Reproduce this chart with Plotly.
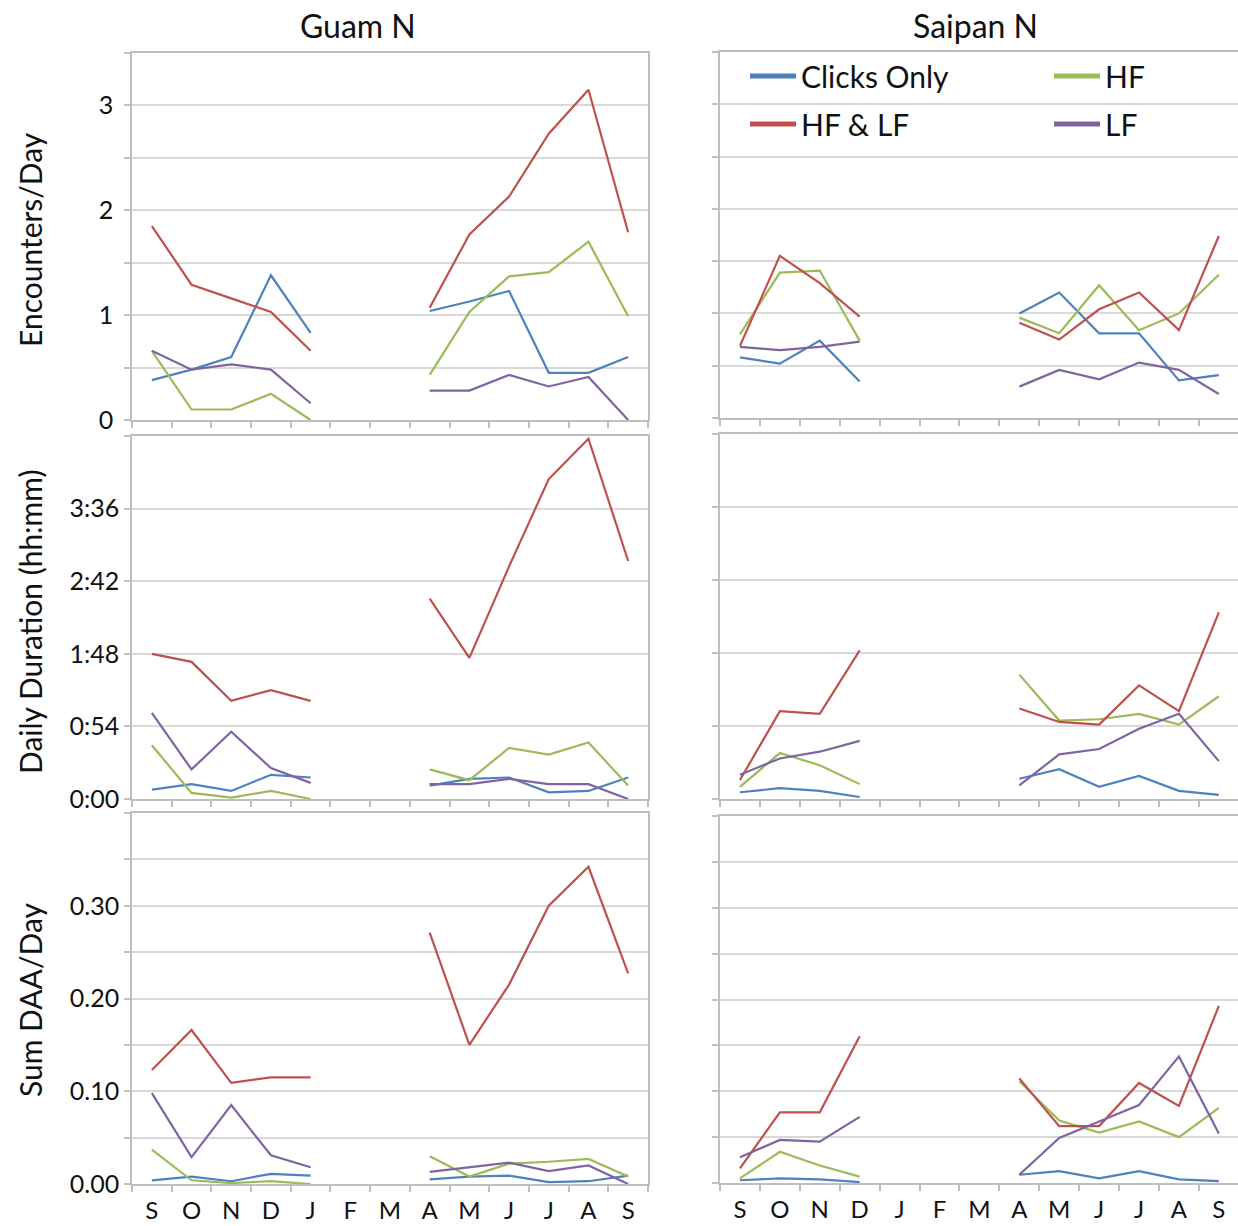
import plotly.graph_objects as go

months = ["S", "O", "N", "D", "J", "F", "M", "A", "M", "J", "J", "A", "S"]
series_names = ["Clicks Only", "HF", "HF & LF", "LF"]
colors = ["#4F81BD", "#9BBB59", "#C0504D", "#8064A2"]

# ---- Encounters/Day ----
guam_enc_clicks = [0.38, 0.48, 0.60, 1.38, 0.83, None, None, 1.04, 1.13, 1.23, 0.45, 0.45, 0.60]
guam_enc_hf = [0.66, 0.10, 0.10, 0.25, 0.00, None, None, 0.43, 1.03, 1.37, 1.41, 1.70, 0.99]
guam_enc_hflf = [1.85, 1.29, 1.16, 1.03, 0.66, None, None, 1.07, 1.77, 2.13, 2.73, 3.15, 1.79]
guam_enc_lf = [0.66, 0.48, 0.53, 0.48, 0.16, None, None, 0.28, 0.28, 0.43, 0.32, 0.41, 0.00]

saipan_enc_clicks = [0.58, 0.52, 0.74, 0.35, None, None, None, 1.00, 1.20, 0.81, 0.81, 0.36, 0.41]
saipan_enc_hf = [0.80, 1.39, 1.41, 0.74, None, None, None, 0.96, 0.81, 1.27, 0.84, 1.00, 1.37]
saipan_enc_hflf = [0.69, 1.55, 1.29, 0.97, None, None, None, 0.91, 0.75, 1.04, 1.20, 0.84, 1.74]
saipan_enc_lf = [0.68, 0.65, 0.68, 0.73, None, None, None, 0.30, 0.46, 0.37, 0.53, 0.46, 0.23]

# ---- Daily Duration (minutes) ----
guam_dur_clicks = [7, 11, 6, 18, 16, None, None, 10, 15, 16, 5, 6, 16]
guam_dur_hf = [40, 4.5, 1, 6, 0, None, None, 22, 14, 38, 33, 42, 10]
guam_dur_hflf = [108, 102, 73, 81, 73, None, None, 149, 105, 173, 238, 268, 177]
guam_dur_lf = [64, 22, 50, 23, 12, None, None, 11, 11, 15, 11, 11, 0]

saipan_dur_clicks = [5, 8, 6, 1.5, None, None, None, 15, 22, 9, 17, 6, 3]
saipan_dur_hf = [9, 34, 25, 11, None, None, None, 92, 58, 59, 63, 55, 76]
saipan_dur_hflf = [14, 65, 63, 110, None, None, None, 67, 57, 55, 84, 65, 138]
saipan_dur_lf = [18, 30, 35, 43, None, None, None, 10, 33, 37, 52, 63, 28]

# ---- Sum DAA/Day ----
guam_daa_clicks = [0.004, 0.008, 0.003, 0.011, 0.009, None, None, 0.005, 0.008, 0.009, 0.002, 0.003, 0.009]
guam_daa_hf = [0.037, 0.004, 0.001, 0.003, 0.000, None, None, 0.030, 0.008, 0.022, 0.024, 0.027, 0.008]
guam_daa_hflf = [0.123, 0.166, 0.109, 0.115, 0.115, None, None, 0.271, 0.150, 0.215, 0.300, 0.342, 0.227]
guam_daa_lf = [0.098, 0.029, 0.085, 0.031, 0.018, None, None, 0.013, 0.018, 0.023, 0.014, 0.020, 0.000]

saipan_daa_clicks = [0.003, 0.005, 0.004, 0.001, None, None, None, 0.009, 0.013, 0.005, 0.013, 0.004, 0.002]
saipan_daa_hf = [0.005, 0.034, 0.019, 0.007, None, None, None, 0.111, 0.068, 0.055, 0.067, 0.050, 0.082]
saipan_daa_hflf = [0.016, 0.077, 0.077, 0.160, None, None, None, 0.114, 0.062, 0.062, 0.109, 0.084, 0.193]
saipan_daa_lf = [0.028, 0.047, 0.045, 0.072, None, None, None, 0.009, 0.049, 0.067, 0.085, 0.138, 0.054]

enc_ticks = [0, 0.5, 1, 1.5, 2, 2.5, 3, 3.5]
enc_labels = ["0", "", "1", "", "2", "", "3", ""]
dur_ticks = [0, 54, 108, 162, 216, 270]
dur_labels = ["0:00", "0:54", "1:48", "2:42", "3:36", ""]
daa_ticks = [0, 0.05, 0.10, 0.15, 0.20, 0.25, 0.30, 0.35, 0.40]
daa_labels = ["0.00", "", "0.10", "", "0.20", "", "0.30", "", ""]

panels = [
    # (row, col, [series])
    (0, 0, [guam_enc_clicks, guam_enc_hf, guam_enc_hflf, guam_enc_lf]),
    (0, 1, [saipan_enc_clicks, saipan_enc_hf, saipan_enc_hflf, saipan_enc_lf]),
    (1, 0, [guam_dur_clicks, guam_dur_hf, guam_dur_hflf, guam_dur_lf]),
    (1, 1, [saipan_dur_clicks, saipan_dur_hf, saipan_dur_hflf, saipan_dur_lf]),
    (2, 0, [guam_daa_clicks, guam_daa_hf, guam_daa_hflf, guam_daa_lf]),
    (2, 1, [saipan_daa_clicks, saipan_daa_hf, saipan_daa_hflf, saipan_daa_lf]),
]
row_ticks = [(enc_ticks, enc_labels), (dur_ticks, dur_labels), (daa_ticks, daa_labels)]
row_standoff = [6, 0, 0]

W, H = 1238, 1226
FONT = "Lato, 'Open Sans', sans-serif"
GRID = "#D9D9D9"
AXC = "#BFBFBF"

# pixel geometry of plot areas
col_px = [(132, 648), (720, 1238)]
col_range = [[-0.5, 12.5], [-0.5, 12.48]]
row_px = {
    (0, 0): (53, 420), (0, 1): (52, 418),
    (1, 0): (436, 799), (1, 1): (434, 799),
    (2, 0): (813, 1184), (2, 1): (816, 1183),
}

x = list(range(len(months)))
fig = go.Figure()
layout = {}
for r, c, data in panels:
    k = r * 2 + c + 1
    xa = "x" if k == 1 else f"x{k}"
    ya = "y" if k == 1 else f"y{k}"
    for name, col, ys in zip(series_names, colors, data):
        fig.add_trace(go.Scatter(
            x=x, y=ys, mode="lines", name=name, showlegend=False,
            line=dict(color=col, width=2.2), xaxis=xa, yaxis=ya,
            connectgaps=False, hoverinfo="skip"))
    x0, x1 = col_px[c]
    y0, y1 = row_px[(r, c)]
    tv, tt = row_ticks[r]
    layout["xaxis" if k == 1 else f"xaxis{k}"] = dict(
        domain=[x0 / W, x1 / W], anchor=ya, range=col_range[c],
        tickmode="array", tickvals=x, ticktext=months, ticks="",
        showticklabels=(r == 2), showgrid=False, zeroline=False,
        showline=True, linecolor=AXC, linewidth=1.5, mirror=True,
        tickfont=dict(family=FONT, size=24, color="#111"),
        ticklabelstandoff=4, automargin=False,
        minor=dict(tickmode="array", tickvals=[i - 0.5 for i in range(14)],
                   ticks="outside", ticklen=6, tickcolor=AXC, tickwidth=1.5,
                   showgrid=False),
    )
    layout["yaxis" if k == 1 else f"yaxis{k}"] = dict(
        domain=[1 - y1 / H, 1 - y0 / H], anchor=xa, range=[tv[0], tv[-1]],
        tickmode="array", tickvals=tv, ticktext=tt,
        showticklabels=(c == 0), showgrid=True, gridcolor=GRID, gridwidth=1.5,
        zeroline=False, showline=True, linecolor=AXC, linewidth=1.5, mirror=True,
        ticks="outside", ticklen=6, tickcolor=AXC, tickwidth=1.5,
        tickfont=dict(family=FONT, size=25, color="#111"),
        ticklabelstandoff=row_standoff[r], automargin=False,
    )

# legend-only traces (one legend box per entry, laid out in two columns)
legend_pos = {
    "Clicks Only": ("legend", 753, 76),
    "HF": ("legend2", 1057, 76),
    "HF & LF": ("legend3", 753, 124),
    "LF": ("legend4", 1057, 124),
}
for name, col in zip(series_names, colors):
    lg, px, py = legend_pos[name]
    fig.add_trace(go.Scatter(
        x=[None], y=[None], mode="lines", name=name, legend=lg,
        line=dict(color=col, width=5), showlegend=True, hoverinfo="skip"))
    layout[lg] = dict(
        x=(px - 8) / W, y=1 - py / H, xanchor="left", yanchor="middle",
        bgcolor="rgba(0,0,0,0)", borderwidth=0, itemwidth=46,
        font=dict(family=FONT, size=30, color="#111"),
        orientation="v", tracegroupgap=0,
    )

annotations = [
    dict(text="Guam N", x=358 / W, y=1 - 25 / H, xref="paper", yref="paper",
         showarrow=False, font=dict(family=FONT, size=32, color="#111"),
         xanchor="center", yanchor="middle"),
    dict(text="Saipan N", x=975 / W, y=1 - 25 / H, xref="paper", yref="paper",
         showarrow=False, font=dict(family=FONT, size=32, color="#111"),
         xanchor="center", yanchor="middle"),
]
for title, yc in [("Encounters/Day", 240), ("Daily Duration (hh:mm)", 622),
                  ("Sum DAA/Day", 1000)]:
    annotations.append(dict(
        text=title, x=30 / W, y=1 - yc / H, xref="paper", yref="paper",
        showarrow=False, textangle=-90, xanchor="center", yanchor="middle",
        font=dict(family=FONT, size=30, color="#111")))

fig.update_layout(
    width=W, height=H, margin=dict(l=0, r=0, t=0, b=0, autoexpand=False),
    paper_bgcolor="white", plot_bgcolor="white",
    annotations=annotations, **layout)

fig.write_html("out.html")
